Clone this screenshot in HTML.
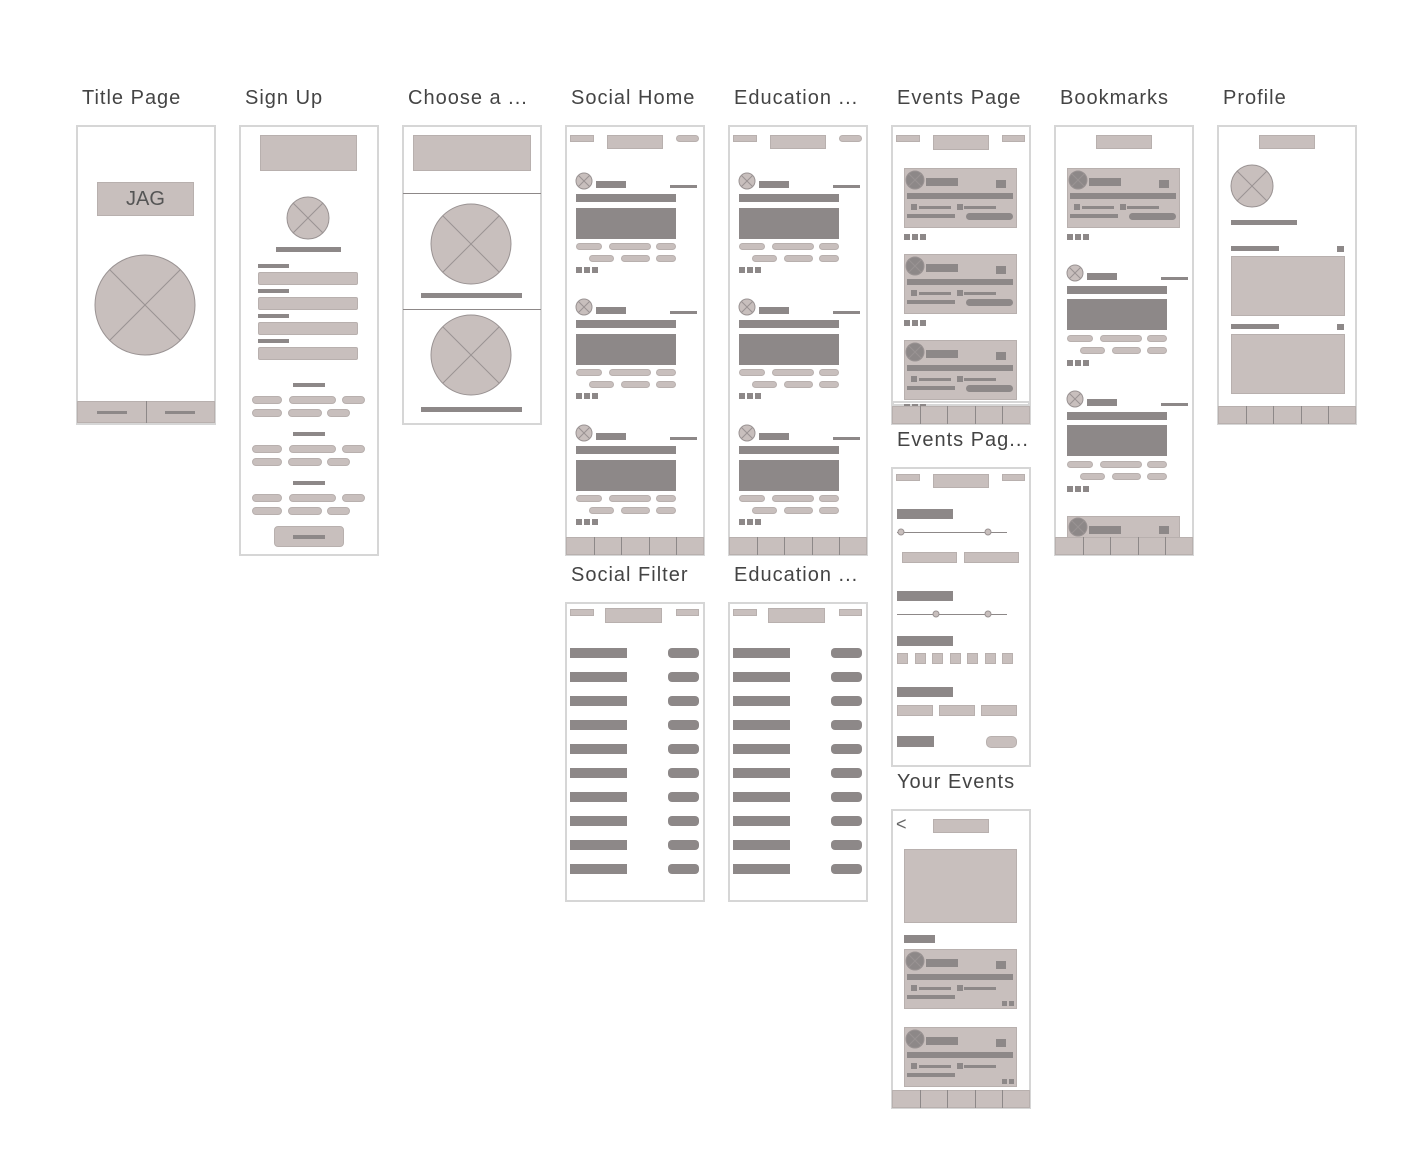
<!DOCTYPE html>
<html><head><meta charset="utf-8"><style>
body{margin:0;width:1405px;height:1150px;background:#fff;position:relative;overflow:hidden;font-family:"Liberation Sans",sans-serif}
div{position:absolute;box-sizing:border-box}
.f{border:2px solid #d6d6d6;background:#fff}
.l{background:#c8bfbd;border:1px solid #b8b0ae}
.d{background:#8d8888}
.t{font-size:20px;color:#444;letter-spacing:1px;font-weight:300;white-space:nowrap}
</style></head><body>
<svg width="1405" height="1150" style="position:absolute;left:0;top:0;z-index:5;pointer-events:none" id="sv"></svg>
<script>
var B=document.body,S=document.getElementById('sv');
function R(x,y,w,h,c,rad){var e=document.createElement('div');e.className=c;e.style.cssText='left:'+x+'px;top:'+y+'px;width:'+w+'px;height:'+h+'px;'+(rad?'border-radius:'+rad+'px;':'');B.appendChild(e);return e}
function T(x,y,s){var e=document.createElement('div');e.className='t';e.style.left=x+'px';e.style.top=(y+3)+'px';e.textContent=s;B.appendChild(e)}
function C(cx,cy,r,fill){var n='http://www.w3.org/2000/svg';var c=document.createElementNS(n,'circle');c.setAttribute('cx',cx);c.setAttribute('cy',cy);c.setAttribute('r',r);c.setAttribute('fill',fill||'#c8bfbd');c.setAttribute('stroke','#9a9393');c.setAttribute('stroke-width',1);S.appendChild(c);var k=r*0.707;[[cx-k,cy-k,cx+k,cy+k],[cx+k,cy-k,cx-k,cy+k]].forEach(function(a){var l=document.createElementNS(n,'line');l.setAttribute('x1',a[0]);l.setAttribute('y1',a[1]);l.setAttribute('x2',a[2]);l.setAttribute('y2',a[3]);l.setAttribute('stroke','#9a9393');l.setAttribute('stroke-width',1);S.appendChild(l)})}
function Dot(cx,cy){var n='http://www.w3.org/2000/svg';var c=document.createElementNS(n,'circle');c.setAttribute('cx',cx);c.setAttribute('cy',cy);c.setAttribute('r',3);c.setAttribute('fill','#c8bfbd');c.setAttribute('stroke','#9a9393');S.appendChild(c)}
function Footer(x,y,w,h,n){R(x,y,w,h,'l');for(var i=1;i<n;i++)R(x+Math.round(w*i/n),y,1,h,'d')}
T(82,84,'Title Page');T(245,84,'Sign Up');T(408,84,'Choose a ...');T(571,84,'Social Home');T(734,84,'Education ...');T(897,84,'Events Page');T(1060,84,'Bookmarks');T(1223,84,'Profile');
T(571,561,'Social Filter');T(734,561,'Education ...');T(897,426,'Events Pag...');T(897,768,'Your Events');
R(76,125,140,300,'f');R(97,182,97,34,'l');var j=document.createElement('div');j.style.cssText='left:97px;top:182px;width:97px;height:34px;line-height:34px;text-align:center;font-size:20px;color:#555';j.textContent='JAG';B.appendChild(j);
C(145,305,50);Footer(77,401,138,22,2);R(97,411,30,3,'d');R(165,411,30,3,'d');
R(239,125,140,431,'f');R(260,135,97,36,'l');C(308,218,21);R(276,247,65,5,'d');
[264,289,314,339].forEach(function(y){R(258,y,31,4,'d');R(258,y+8,100,13,'l',2)});
[383,432,481].forEach(function(y){R(293,y,32,4,'d');R(252,y+13,30,8,'l',4);R(289,y+13,47,8,'l',4);R(342,y+13,23,8,'l',4);R(252,y+26,30,8,'l',4);R(288,y+26,34,8,'l',4);R(327,y+26,23,8,'l',4)});
R(274,526,70,21,'l',4);R(293,535,32,4,'d');
R(402,125,140,300,'f');R(413,135,118,36,'l');R(403,193,138,1,'d');R(403,309,138,1,'d');
C(471,244,40);R(421,293,101,5,'d');C(471,355,40);R(421,407,101,5,'d');
function Home(x){R(x,125,140,431,'f');R(x+5,135,24,7,'l');R(x+42,135,56,14,'l');R(x+111,135,23,7,'l',4);
[172,298,424].forEach(function(y){C(x+19,y+9,8);R(x+31,y+9,30,7,'d');R(x+105,y+13,27,3,'d');R(x+11,y+22,100,8,'d');R(x+11,y+36,100,31,'d');
R(x+11,y+71,26,7,'l',4);R(x+44,y+71,42,7,'l',4);R(x+91,y+71,20,7,'l',4);R(x+24,y+83,25,7,'l',4);R(x+56,y+83,29,7,'l',4);R(x+91,y+83,20,7,'l',4);
for(var i=0;i<3;i++)R(x+11+i*8,y+95,6,6,'d')});Footer(x+1,537,138,18,5)}
Home(565);Home(728);
function Filt(x){R(x,602,140,300,'f');R(x+5,609,24,7,'l');R(x+40,608,57,15,'l');R(x+111,609,23,7,'l');
for(var i=0;i<10;i++){R(x+5,648+i*24,57,10,'d');R(x+103,648+i*24,31,10,'d',4)}}
Filt(565);Filt(728);
function Card(x,y,last){R(x,y,113,60,'l');C(x+11,y+12,9,'#8d8888');R(x+22,y+10,32,8,'d');R(x+92,y+12,10,8,'d');R(x+3,y+25,106,6,'d');
R(x+7,y+36,6,6,'d');R(x+15,y+38,32,3,'d');R(x+53,y+36,6,6,'d');R(x+60,y+38,32,3,'d');R(x+3,y+46,48,4,'d');
if(last){R(x+98,y+52,5,5,'d');R(x+105,y+52,5,5,'d')}else R(x+62,y+45,47,7,'d',4)}
R(891,125,140,300,'f');R(896,135,24,7,'l');R(933,135,56,15,'l');R(1002,135,23,7,'l');
[168,254,340].forEach(function(y,k){Card(904,y);if(k<2)for(var i=0;i<3;i++)R(904+i*8,234+(y-168),6,6,'d')});
R(892,401,138,5,'f');for(var i=0;i<3;i++)R(904+i*8,404,6,3,'d');Footer(892,406,138,18,5);
R(891,467,140,300,'f');R(896,474,24,7,'l');R(933,474,56,14,'l');R(1002,474,23,7,'l');
R(897,509,56,10,'d');R(897,532,110,1,'d');Dot(901,532);Dot(988,532);R(902,552,55,11,'l');R(964,552,55,11,'l');
R(897,591,56,10,'d');R(897,614,110,1,'d');Dot(936,614);Dot(988,614);R(897,636,56,10,'d');
for(var i=0;i<7;i++)R(897+i*17.5,653,11,11,'l');R(897,687,56,10,'d');R(897,705,36,11,'l');R(939,705,36,11,'l');R(981,705,36,11,'l');
R(897,736,37,11,'d');R(986,736,31,12,'l',5);
R(891,809,140,300,'f');var lt=document.createElement('div');lt.style.cssText='left:896px;top:814px;font-size:18px;color:#666';lt.textContent='<';B.appendChild(lt);
R(933,819,56,14,'l');R(904,849,113,74,'l');R(904,935,31,8,'d');Card(904,949,1);Card(904,1027,1);Footer(892,1090,138,18,5);
R(1054,125,140,431,'f');R(1096,135,56,14,'l');Card(1067,168);for(var i=0;i<3;i++)R(1067+i*8,234,6,6,'d');
[264,390].forEach(function(y){var x=1056;C(x+19,y+9,8);R(x+31,y+9,30,7,'d');R(x+105,y+13,27,3,'d');R(x+11,y+22,100,8,'d');R(x+11,y+35,100,31,'d');
R(x+11,y+71,26,7,'l',4);R(x+44,y+71,42,7,'l',4);R(x+91,y+71,20,7,'l',4);R(x+24,y+83,25,7,'l',4);R(x+56,y+83,29,7,'l',4);R(x+91,y+83,20,7,'l',4);
for(var i=0;i<3;i++)R(x+11+i*8,y+96,6,6,'d')});
R(1067,516,113,22,'l');C(1078,527,9,'#8d8888');R(1089,526,32,8,'d');R(1159,526,10,8,'d');Footer(1055,537,138,18,5);
R(1217,125,140,300,'f');R(1259,135,56,14,'l');C(1252,186,21);R(1231,220,66,5,'d');
R(1231,246,48,5,'d');R(1337,246,7,6,'d');R(1231,256,114,60,'l');R(1231,324,48,5,'d');R(1337,324,7,6,'d');R(1231,334,114,60,'l');Footer(1218,406,138,18,5);
</script>
</body></html>
